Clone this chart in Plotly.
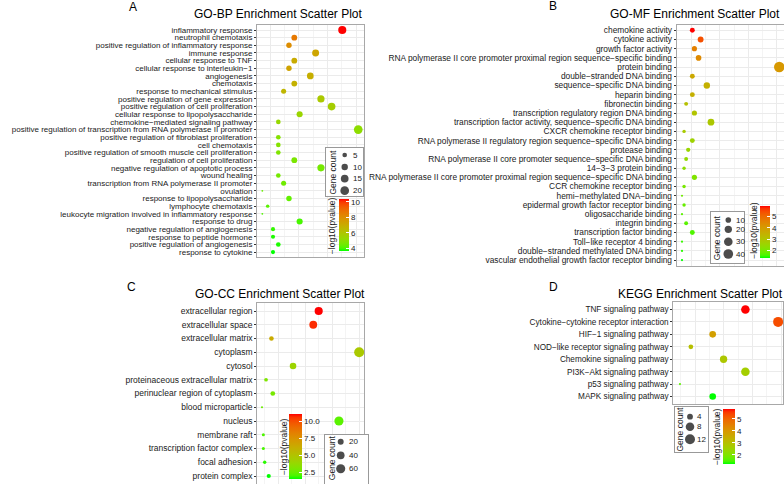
import math
import plotly.graph_objects as go

W, H = 784, 484
FONT = "Liberation Sans, Arial, sans-serif"
TXT = "#1a1a1a"

# ---------------- data ----------------
bp_terms = [
    "inflammatory response", "neutrophil chemotaxis", "positive regulation of inflammatory response",
    "immune response", "cellular response to TNF", "cellular response to interleukin−1",
    "angiogenesis", "chemotaxis", "response to mechanical stimulus",
    "positive regulation of gene expression", "positive regulation of cell proliferation",
    "cellular response to lipopolysaccharide", "chemokine−mediated signaling pathway",
    "positive regulation of transcription from RNA polymerase II promoter",
    "positive regulation of fibroblast proliferation", "cell chemotaxis",
    "positive regulation of smooth muscle cell proliferation", "regulation of cell proliferation",
    "negative regulation of apoptotic process", "wound healing",
    "transcription from RNA polymerase II promoter", "ovulation", "response to lipopolysaccharide",
    "lymphocyte chemotaxis", "leukocyte migration involved in inflammatory response",
    "response to drug", "negative regulation of angiogenesis", "response to peptide hormone",
    "positive regulation of angiogenesis", "response to cytokine",
]
bp_count = [17, 8, 7, 12, 8, 7, 11, 8, 6, 13, 15, 9, 5, 20, 5, 5, 5, 8, 13, 5, 6, 2, 7, 3, 2, 9, 4, 4, 5, 4]
bp_logp = [10.35, 8.6, 8.0, 7.2, 7.0, 7.3, 6.9, 6.8, 6.6, 5.9, 5.7, 5.4, 5.3, 5.1, 4.9, 4.9, 4.8,
           4.7, 4.6, 4.6, 4.5, 4.4, 4.3, 4.2, 4.1, 4.0, 3.9, 3.8, 3.8, 3.67]
bp_size_legend = [5, 10, 15, 20]
bp_color_ticks = [4, 6, 8, 10]

mf_terms = [
    "chemokine activity", "cytokine activity", "growth factor activity",
    "RNA polymerase II core promoter proximal region sequence−specific binding", "protein binding",
    "double−stranded DNA binding", "sequence−specific DNA binding", "heparin binding",
    "fibronectin binding", "transcription regulatory region DNA binding",
    "transcription factor activity, sequence−specific DNA binding", "CXCR chemokine receptor binding",
    "RNA polymerase II regulatory region sequence−specific DNA binding", "protease binding",
    "RNA polymerase II core promoter sequence−specific DNA binding", "14−3−3 protein binding",
    "RNA polymerase II core promoter proximal region sequence−specific DNA binding",
    "CCR chemokine receptor binding", "hemi−methylated DNA−binding",
    "epidermal growth factor receptor binding", "oligosaccharide binding", "integrin binding",
    "transcription factor binding", "Toll−like receptor 4 binding",
    "double−stranded methylated DNA binding", "vascular endothelial growth factor receptor binding",
]
mf_count = [7, 11, 8, 10, 49, 7, 14, 7, 4, 8, 16, 3, 7, 5, 4, 3, 8, 3, 2, 3, 2, 4, 7, 2, 2, 2]
mf_logp = [5.95, 5.4, 4.6, 4.4, 4.1, 3.7, 3.5, 3.5, 3.1, 3.0, 2.9, 2.8, 2.6, 2.5, 2.4, 2.3, 2.1,
           2.0, 1.9, 1.8, 1.7, 1.7, 1.6, 1.5, 1.45, 1.32]
mf_size_legend = [10, 20, 30, 40]
mf_color_ticks = [2, 3, 4, 5]

cc_terms = [
    "extracellular region", "extracellular space", "extracellular matrix", "cytoplasm", "cytosol",
    "proteinaceous extracellular matrix", "perinuclear region of cytoplasm", "blood microparticle",
    "nucleus", "membrane raft", "transcription factor complex", "focal adhesion", "protein complex",
]
cc_count = [45, 41, 10, 75, 26, 6, 11, 3, 60, 4, 4, 5, 8]
cc_logp = [11.0, 10.6, 6.2, 4.6, 4.0, 3.0, 2.8, 2.5, 2.2, 2.0, 1.9, 1.7, 1.43]
cc_size_legend = [20, 40, 60]
cc_color_ticks = [2.5, 5.0, 7.5, 10.0]

kegg_terms = [
    "TNF signaling pathway", "Cytokine−cytokine receptor interaction", "HIF−1 signaling pathway",
    "NOD−like receptor signaling pathway", "Chemokine signaling pathway", "PI3K−Akt signaling pathway",
    "p53 signaling pathway", "MAPK signaling pathway",
]
kegg_count = [8, 11, 5, 3, 6, 8, 2, 5]
kegg_logp = [5.8, 5.3, 3.8, 3.0, 2.8, 2.6, 1.6, 1.22]
kegg_size_legend = [4, 8, 12]
kegg_color_ticks = [2, 3, 4, 5]

# ---------------- colour scale (Lab interpolation green -> red) ----------------
def rgb_to_lab(rgb):
    lin = []
    for v in rgb:
        v = v / 255.0
        lin.append(v / 12.92 if v <= 0.04045 else ((v + 0.055) / 1.055) ** 2.4)
    R, G, B = lin
    X = (0.4124564 * R + 0.3575761 * G + 0.1804375 * B) / 0.95047
    Y = 0.2126729 * R + 0.7151522 * G + 0.0721750 * B
    Z = (0.0193339 * R + 0.1191920 * G + 0.9503041 * B) / 1.08883
    f = lambda t: t ** (1 / 3) if t > 0.008856 else 7.787 * t + 16 / 116
    return 116 * f(Y) - 16, 500 * (f(X) - f(Y)), 200 * (f(Y) - f(Z))

def lab_to_rgb(L, a, b):
    fy = (L + 16) / 116
    fx = fy + a / 500
    fz = fy - b / 200
    inv = lambda t: t ** 3 if t ** 3 > 0.008856 else (t - 16 / 116) / 7.787
    X, Y, Z = inv(fx) * 0.95047, inv(fy), inv(fz) * 1.08883
    R = 3.2404542 * X - 1.5371385 * Y - 0.4985314 * Z
    G = -0.9692660 * X + 1.8760108 * Y + 0.0415560 * Z
    B = 0.0556434 * X - 0.2040259 * Y + 1.0572252 * Z
    out = []
    for v in (R, G, B):
        v = max(0.0, min(1.0, v))
        v = 12.92 * v if v <= 0.0031308 else 1.055 * v ** (1 / 2.4) - 0.055
        out.append(int(round(max(0, min(1, v)) * 255)))
    return out

lo, hi = rgb_to_lab((0, 255, 0)), rgb_to_lab((255, 0, 0))
CS = []
for i in range(21):
    t = i / 20
    c = lab_to_rgb(*[lo[k] + (hi[k] - lo[k]) * t for k in range(3)])
    CS.append([t, "rgb(%d,%d,%d)" % tuple(c)])

# ---------------- helpers ----------------
def dom_x(l, r):
    return [l / W, r / W]

def dom_y(t, b):
    return [max(0.0, 1 - b / H), min(1.0, 1 - t / H)]

def diam(c, cmin, cmax, dmax):
    t = (c - cmin) / (cmax - cmin)
    t = min(max(t, 0), 1)
    fs = (1 + 5 * math.sqrt(t)) * 2.845 + 0.945
    return dmax * fs / (6 * 2.845 + 0.945)

fig = go.Figure()
layout = dict(width=W, height=H, margin=dict(l=0, r=0, t=0, b=0),
              paper_bgcolor="white", plot_bgcolor="white", showlegend=False,
              font=dict(family=FONT, color=TXT), annotations=[])

GRID = "#EBEBEB"
BORDER = "#A8A8A8"

panels = [
    # terms, count, logp, geometry(l,r,t,b), xrange, grid(tick0,dtick), dmax, bottom_cut, label font
    (bp_terms, bp_count, bp_logp, (257, 364, 25.4, 256.7), [1.0, 21.08], (3.44, 5.38), 8.7, False, 8.0),
    (mf_terms, mf_count, mf_logp, (676.7, 784, 24.8, 265.6), [-0.56, 51.3], (6.69, 13.67), 10.5, False, 8.35),
    (cc_terms, cc_count, cc_logp, (257.3, 364.3, 302.75, 484.25), [-0.48, 78.8], (15, 20), 10.0, True, 8.5),
    (kegg_terms, kegg_count, kegg_logp, (673.3, 782.7, 302, 404), [1.39, 11.42], (3.38, 2.63), 10.0, False, 8.2),
]

for i, (terms, cnt, lp, (l, r, t, b), xr, (g0, gd), dmax, cut, fsz) in enumerate(panels):
    k = i + 1
    sfx = "" if k == 1 else str(k)
    n = len(terms)
    spacing = (b - t) / n
    ybot = n - 0.4 if not cut else (n - 0.4) - (b - 484) / spacing
    cmin, cmax = min(cnt), max(cnt)
    fig.add_trace(go.Scatter(
        x=cnt, y=terms, mode="markers", xaxis="x" + sfx, yaxis="y" + sfx, cliponaxis=False,
        marker=dict(size=[diam(c, cmin, cmax, dmax) for c in cnt], color=lp,
                    coloraxis="coloraxis" + sfx, line=dict(width=0), opacity=1),
        hoverinfo="skip"))
    layout["xaxis" + sfx] = dict(
        domain=dom_x(l, r), range=xr, anchor="y" + sfx, showticklabels=False, ticks="",
        showgrid=True, gridcolor=GRID, gridwidth=1, tick0=g0, dtick=gd,
        minor=dict(tick0=g0, dtick=gd / 2, showgrid=True, gridcolor="#F4F4F4", gridwidth=0.6),
        showline=True, mirror=(not cut), side=("top" if cut else "bottom"),
        linecolor=BORDER, linewidth=1, zeroline=False, fixedrange=True)
    layout["yaxis" + sfx] = dict(
        domain=dom_y(t, min(b, 484)), anchor="x" + sfx, type="category",
        categoryorder="array", categoryarray=terms, range=[ybot, -0.6],
        tickmode="array", tickvals=terms, ticktext=terms,
        showgrid=True, gridcolor=GRID, gridwidth=1, ticks="outside", ticklen=2,
        tickcolor="#333333", tickwidth=1,
        tickfont=dict(size=fsz, color=TXT, family=FONT),
        showline=True, mirror=True, linecolor=BORDER, linewidth=1, zeroline=False, fixedrange=True)

# ---------------- legends ----------------
size_legends = [
    # values, data counts, dmax, box(l,r,t,b), title_x, dot_x, label_x, rows
    (bp_size_legend, bp_count, 8.7, (326, 363, 148, 195.7), 332.7, 344.7, 350.5, [155, 167, 178.7, 190.7]),
    (mf_size_legend, mf_count, 10.5, (710.7, 744, 211.7, 263.3), 716.7, 728.3, 734, [220, 229.3, 241.7, 254]),
    (cc_size_legend, cc_count, 10.0, (325, 368.3, 435, 490), 331.7, 340.7, 346.5, [441.7, 455.3, 468.7]),
    (kegg_size_legend, kegg_count, 10.0, (675, 707.7, 406.7, 452.3), 679, 690, 694.5, [416.7, 426.7, 439.3]),
]
color_legends = [
    # logp, ticks, box(l,r,t,b), title_x, bar(l,r,t,b), fmt
    (bp_logp, bp_color_ticks, (326, 363, 195.7, 256.7), 332, (339.3, 349, 199, 250.7), None),
    (mf_logp, mf_color_ticks, (746.7, 780.7, 201.7, 259.3), 753.3, (760, 770, 206, 258.3), None),
    (cc_logp, cc_color_ticks, (279.3, 324, 412.3, 490), 283.3, (289, 301.7, 414.3, 479.3), ".1f"),
    (kegg_logp, kegg_color_ticks, (712.7, 742.7, 406.7, 466), 717.7, (723.3, 735.7, 409.3, 464.3), None),
]

def box_axes(idx, l, r, t, b):
    cut = b > 484
    bb = min(b, 484)
    layout["xaxis%d" % idx] = dict(
        domain=dom_x(l, r), range=[l, r], anchor="y%d" % idx, showgrid=False, showticklabels=False,
        ticks="", zeroline=False, showline=True, mirror=(not cut), side=("top" if cut else "bottom"),
        linecolor="#999999", linewidth=1, fixedrange=True)
    layout["yaxis%d" % idx] = dict(
        domain=dom_y(t, bb), range=[bb, t], anchor="x%d" % idx, showgrid=False, showticklabels=False,
        ticks="", zeroline=False, showline=True, mirror=True, linecolor="#999999", linewidth=1,
        fixedrange=True)

for i, (vals, cnt, dmax, (l, r, t, b), tx, dx, lx, rows) in enumerate(size_legends):
    idx = 5 + i
    box_axes(idx, l, r, t, b)
    cmin, cmax = min(cnt), max(cnt)
    fig.add_trace(go.Scatter(
        x=[dx] * len(vals), y=rows, mode="markers", xaxis="x%d" % idx, yaxis="y%d" % idx,
        marker=dict(size=[diam(v, cmin, cmax, dmax) for v in vals], color="black", line=dict(width=0)),
        cliponaxis=False, hoverinfo="skip"))
    for v, ry in zip(vals, rows):
        layout["annotations"].append(dict(
            x=lx / W, y=1 - ry / H, xref="paper", yref="paper", text=str(v), showarrow=False,
            xanchor="left", yanchor="middle", font=dict(size=8, family=FONT, color=TXT)))
    cy = (t + b) / 2 if b <= 484 else (t + 480) / 2
    layout["annotations"].append(dict(
        x=tx / W, y=1 - cy / H,
        xref="paper", yref="paper", text="Gene count", textangle=-90, showarrow=False,
        xanchor="center", yanchor="middle", font=dict(size=8.5, family=FONT, color=TXT)))

for i, (lp, ticks, (l, r, t, b), tx, (bl, br, bt, bb), fmt) in enumerate(color_legends):
    idx = 9 + i
    box_axes(idx, l, r, t, b)
    sfx = "" if i == 0 else str(i + 1)
    cb = dict(
        x=bl / W, xanchor="left", xpad=0, y=1 - bt / H, yanchor="top", ypad=0,
        len=bb - bt, lenmode="pixels", thickness=br - bl, thicknessmode="pixels",
        outlinewidth=0, borderwidth=0, tickvals=ticks, ticks="inside", ticklen=3,
        tickcolor="white", tickwidth=1, tickfont=dict(size=8, family=FONT, color=TXT),
        title=dict(text=""))
    if fmt:
        cb["tickformat"] = fmt
    layout["coloraxis" + sfx] = dict(colorscale=CS, cmin=min(lp), cmax=max(lp), colorbar=cb)
    cy = (t + b) / 2 if b <= 484 else (bt + bb) / 2
    layout["annotations"].append(dict(
        x=tx / W, y=1 - cy / H, xref="paper", yref="paper", text="−log10(pvalue)", textangle=-90,
        showarrow=False, xanchor="center", yanchor="middle",
        font=dict(size=8.5, family=FONT, color=TXT)))

# ---------------- titles and panel letters ----------------
titles = [("GO-BP Enrichment Scatter Plot", 278.5, 14), ("GO-MF Enrichment Scatter Plot", 695, 14),
          ("GO-CC Enrichment Scatter Plot", 279.5, 294), ("KEGG Enrichment Scatter Plot", 700, 294)]
for txt, cx, cy in titles:
    layout["annotations"].append(dict(
        x=cx / W, y=1 - cy / H, xref="paper", yref="paper", text=txt, showarrow=False,
        xanchor="center", yanchor="middle", font=dict(size=12, family=FONT, color="black")))
letters = [("A", 132.5, 7), ("B", 552.7, 6), ("C", 131.7, 286.7), ("D", 553, 286.7)]
for txt, cx, cy in letters:
    layout["annotations"].append(dict(
        x=cx / W, y=1 - cy / H, xref="paper", yref="paper", text=txt, showarrow=False,
        xanchor="center", yanchor="middle", font=dict(size=12, family=FONT, color="black")))

fig.update_layout(**layout)
fig.write_html("out.html", config={"displayModeBar": False},
               post_script="document.body.style.margin='0';document.body.style.overflow='hidden';")
